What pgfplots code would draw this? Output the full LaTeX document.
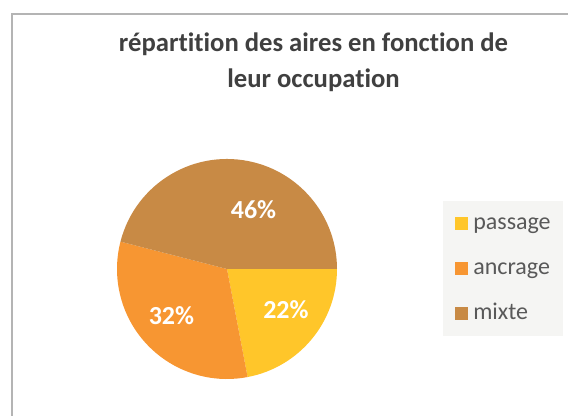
\documentclass[border=0pt]{standalone}
\usepackage{pgfplots}
\pgfplotsset{compat=1.18}
\usepackage{fontspec}
\setmainfont{Carlito}[Ligatures=NoCommon]
\definecolor{cpass}{HTML}{FFC62A}
\definecolor{cancr}{HTML}{F79632}
\definecolor{cmixt}{HTML}{C88A45}
\definecolor{legbg}{HTML}{F5F5F3}
\definecolor{titlec}{HTML}{404040}
\definecolor{legtxt}{HTML}{595959}
\definecolor{framec}{HTML}{B4B4B4}

\begin{document}
\begin{tikzpicture}[x=0.75pt, y=-0.75pt]
\useasboundingbox (0,0) rectangle (568,416);
\draw[framec, line width=1.5pt] (11.5,420) -- (11.5,14) -- (572,14);

% shares in percent: passage, ancrage, mixte
\def\vpass{22}\def\vancr{32}\def\vmixt{46}
\pgfmathsetmacro\aA{-3.6*\vpass}
\pgfmathsetmacro\aB{\aA-3.6*\vancr}
\pgfmathsetmacro\aC{\aB-3.6*\vmixt}

\node[anchor=base, font=\fontsize{20}{24}\selectfont\bfseries, text=titlec, inner sep=0]
  at (313.5,52) {répartition des aires en fonction de};
\node[anchor=base, font=\fontsize{20}{24}\selectfont\bfseries, text=titlec, inner sep=0]
  at (313.5,88) {leur occupation};

\coordinate (piecenter) at (227,269);
\begin{axis}[
  at={(piecenter)}, anchor=origin,
  x=82.5pt, y=82.5pt,
  xmin=-1, xmax=1, ymin=-1, ymax=1,
  hide axis, clip=false,
]
\fill[cpass] (axis cs:0,0) -- (axis cs:1,0) arc[start angle=0, end angle=\aA, radius=82.5pt] -- cycle;
\fill[cancr] (axis cs:0,0) -- (axis cs:{cos(\aA)},{sin(\aA)}) arc[start angle=\aA, end angle=\aB, radius=82.5pt] -- cycle;
\fill[cmixt] (axis cs:0,0) -- (axis cs:{cos(\aB)},{sin(\aB)}) arc[start angle=\aB, end angle=\aC, radius=82.5pt] -- cycle;
\node[text=white, font=\fontsize{19.5}{22}\selectfont\bfseries] at (axis cs:0.536,-0.368) {\vpass\%};
\node[text=white, font=\fontsize{19.5}{22}\selectfont\bfseries] at (axis cs:-0.505,-0.423) {\vancr\%};
\node[text=white, font=\fontsize{19.5}{22}\selectfont\bfseries] at (axis cs:0.241,0.536) {\vmixt\%};
\end{axis}

% legend
\fill[legbg] (443,201) rectangle (563,336);
\fill[cpass] (455,217.5) rectangle (468,230);
\fill[cancr] (455,262.5) rectangle (468,275);
\fill[cmixt] (455,307.5) rectangle (468,320);
\node[anchor=base west, inner sep=0, text=legtxt, font=\fontsize{18}{22}\selectfont] at (473,230) {passage};
\node[anchor=base west, inner sep=0, text=legtxt, font=\fontsize{18}{22}\selectfont] at (473,275) {ancrage};
\node[anchor=base west, inner sep=0, text=legtxt, font=\fontsize{18}{22}\selectfont] at (473,320) {mixte};
\end{tikzpicture}
\end{document}
